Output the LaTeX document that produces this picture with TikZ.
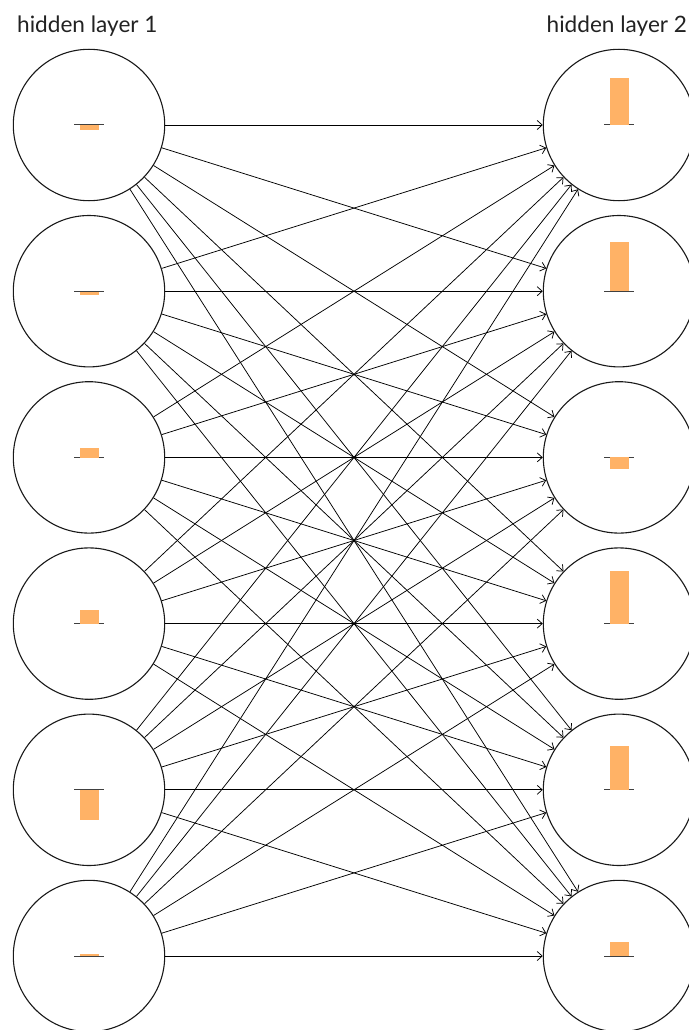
\documentclass[tikz,border=0pt]{standalone}
\usepackage{fontspec}
\setmainfont{Lato}
\usetikzlibrary{arrows.meta}
\definecolor{barcol}{RGB}{255,178,102}
\definecolor{txt}{RGB}{34,34,34}
\begin{document}
\begin{tikzpicture}[x=1pt,y=-1pt,
  neuron/.style={circle,draw=black!90,line width=1.1pt,minimum size=151.4pt,inner sep=0pt},
  conn/.style={line width=0.75pt,-{Straight Barb[length=5pt,width=9pt]}},
  title/.style={anchor=base west,inner sep=0pt,font=\fontsize{22.6}{26}\selectfont,text=txt},
  baseln/.style={line width=1pt,draw=black!75},
  bar/.style={fill=barcol}]
\useasboundingbox (0,0) rectangle (688,1030);
\node[title] (t1) at (17,33) {hidden layer 1};
\node[title] (t2) at (546.5,33) {hidden layer 2};
\foreach \i/\y in {1/125,2/291.2,3/457.4,4/623.6,5/789.8,6/956}{
  \node[neuron] (l\i) at (89,\y) {};
  \node[neuron] (r\i) at (619,\y) {};
}
\foreach \i in {1,...,6}{
  \foreach \j in {1,...,6}{
    \draw[conn] (l\i) -- (r\j);
  }
}
% bars: positive height = above baseline
\foreach \y/\h in {125/-4.7,291.2/-3.5,457.4/9.5,623.6/14,789.8/-30.5,956/2}{
  \draw[baseln] (74,\y) -- (104,\y);
  \fill[bar] (79.5,\y+0.4) rectangle (98.5,\y-\h);
}
\foreach \y/\h in {125/47,291.2/49.5,457.4/-11.5,623.6/53,789.8/44,956/14}{
  \draw[baseln] (604,\y) -- (634,\y);
  \fill[bar] (609.5,\y) rectangle (628.5,\y-\h);
}
\end{tikzpicture}
\end{document}
